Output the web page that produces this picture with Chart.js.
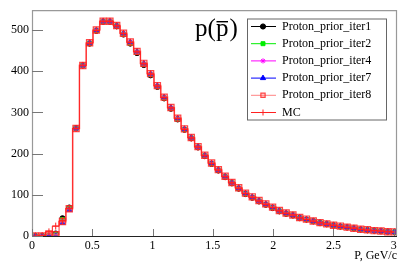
<!DOCTYPE html>
<html>
<head>
<meta charset="utf-8">
<style>
  html, body { margin: 0; padding: 0; background: #fff; }
  canvas { display: block; }
</style>
</head>
<body>
<canvas id="chart" width="407" height="263"></canvas>
<script src="https://cdn.jsdelivr.net/npm/chart.js@4.4.1/dist/chart.umd.min.js"></script>
<script>
// bin centres, P in GeV/c
const pCenters = [0.0281, 0.0843, 0.1405, 0.1967, 0.2529, 0.3091, 0.3653, 0.4215, 0.4777, 0.5339,
  0.5901, 0.6463, 0.7025, 0.7587, 0.8149, 0.8711, 0.9273, 0.9835, 1.0397, 1.0959,
  1.1521, 1.2083, 1.2645, 1.3207, 1.3769, 1.4331, 1.4893, 1.5455, 1.6017, 1.6579,
  1.7141, 1.7703, 1.8265, 1.8827, 1.9389, 1.9951, 2.0513, 2.1075, 2.1637, 2.2199,
  2.2761, 2.3323, 2.3885, 2.4447, 2.5009, 2.5571, 2.6133, 2.6695, 2.7257, 2.7819,
  2.8381, 2.8943, 2.9505, 3.0067];

const mc = [0, 1, 10, 24, 37, 67, 261, 414, 468, 499, 521, 521, 510, 491, 470, 447, 418, 393, 364, 336,
  311, 285, 259, 238, 216, 195, 176, 160, 144, 129, 116, 103, 94, 85, 77, 69, 61, 55, 51, 44,
  40, 36, 32, 29, 26, 23.5, 21, 19, 16, 14.5, 13, 12, 10.5, 9.7];
const iter1 = [0, 0, 0, 6, 43, 69, 262, 414, 467, 498, 520, 520, 509, 489, 467, 444, 415, 390, 362, 334,
  309, 283, 258, 237, 215, 194, 175, 159, 143, 128, 115, 102, 93, 84, 76, 68, 60, 54, 50, 44,
  40, 36, 32, 29, 26, 23, 21, 18.5, 16, 14.5, 13, 12, 10.5, 9.5];
const iter2 = [0, 0, 1, 3, 40, 67, 261, 414, 468, 499, 521, 521, 510, 490, 468, 446, 417, 392, 363, 335,
  310, 284, 259, 238, 216, 195, 176, 160, 144, 129, 116, 103, 94, 85, 77, 69, 61, 55, 51, 44,
  40, 36, 32, 29, 26, 23.5, 21, 19, 16, 14.5, 13, 12, 10.5, 9.7];
const iter4 = [0, 0, 1, 2, 36, 65, 261, 414, 469, 499, 521, 521, 510, 491, 470, 447, 418, 393, 364, 336,
  311, 285, 259, 238, 216, 195, 176, 160, 144, 129, 116, 103, 94, 85, 77, 69, 61, 55, 51, 44,
  40, 36, 32, 29, 26, 23.5, 21, 19, 16, 14.5, 13, 12, 10.5, 9.8];
const iter7 = [0, 0, 0, 0, 32, 63, 261, 414, 469, 500, 521, 521, 511, 492, 471, 448, 419, 394, 365, 337,
  312, 286, 260, 239, 217, 196, 177, 161, 145, 130, 117, 104, 95, 86, 78, 70, 62, 56, 51, 45,
  41, 36.5, 32.5, 29.5, 26, 24, 21.5, 19, 16.5, 15, 13, 12, 10.5, 10];
const iter8 = [0, 0, 5, 3, 35, 66, 261, 414, 469, 500, 521, 521, 511, 492, 471, 448, 419, 394, 365, 337,
  312, 286, 260, 239, 217, 196, 177, 161, 145, 130, 117, 104, 95, 86, 78, 70, 62, 56, 51, 45,
  41, 36.5, 32.5, 29.5, 26, 24, 21.5, 19, 16.5, 15, 13, 12, 10.5, 10];

const xTicks = [0, 0.5, 1, 1.5, 2, 2.5, 3];
const yTicks = [0, 100, 200, 300, 400, 500];

const serif = '"Liberation Serif", "DejaVu Serif", serif';

function pts(vals) {
  return vals.map((v, i) => ({ x: pCenters[i], y: v }));
}

function markerSet(label, vals, color, style, radius, order, extra) {
  return Object.assign({
    label: label,
    data: pts(vals),
    showLine: false,
    borderColor: color,
    borderWidth: 1,
    pointStyle: style,
    pointRadius: radius,
    pointBackgroundColor: color,
    pointBorderColor: color,
    pointBorderWidth: 1,
    order: order
  }, extra || {});
}

// ROOT-like frame, inward ticks, title and legend box
const rootDecor = {
  id: 'rootDecor',
  afterDraw(chart) {
    const { ctx, chartArea: a, scales } = chart;
    ctx.save();

    ctx.strokeStyle = '#999';
    ctx.lineWidth = 1.2;
    ctx.beginPath();
    ctx.moveTo(a.left + 0.5, a.bottom);
    ctx.lineTo(a.left + 0.5, a.top + 0.5);
    ctx.lineTo(a.right - 0.5, a.top + 0.5);
    ctx.lineTo(a.right - 0.5, a.bottom);
    ctx.stroke();

    ctx.strokeStyle = '#222';
    ctx.lineWidth = 1;
    ctx.beginPath();
    ctx.moveTo(a.left, a.bottom + 0.5);
    ctx.lineTo(a.right, a.bottom + 0.5);
    ctx.stroke();

    ctx.strokeStyle = '#777';
    ctx.beginPath();
    scales.x.ticks.forEach(t => {
      const px = Math.round(scales.x.getPixelForValue(t.value)) + 0.5;
      ctx.moveTo(px, a.bottom);
      ctx.lineTo(px, a.bottom - 7);
    });
    scales.y.ticks.forEach(t => {
      const py = Math.round(scales.y.getPixelForValue(t.value)) + 0.5;
      ctx.moveTo(a.left, py);
      ctx.lineTo(a.left + 11, py);
    });
    ctx.stroke();

    // title p(p-bar)
    ctx.fillStyle = '#000';
    ctx.font = '25px ' + serif;
    ctx.textBaseline = 'alphabetic';
    ctx.textAlign = 'left';
    const ty = 35.5;
    const pw = ctx.measureText('p').width;
    ctx.fillText('p', 195, ty);
    ctx.fillText('(', 207.5, ty);
    ctx.fillText('p', 216, ty);
    ctx.fillRect(216.5, 21, pw - 1, 1.4);
    ctx.fillText(')', 229.5, ty);

    // legend box
    const bx = 247, by = 18.5, bw = 139, bh = 101;
    ctx.fillStyle = '#fff';
    ctx.fillRect(bx, by, bw, bh);
    ctx.strokeStyle = '#666';
    ctx.lineWidth = 1;
    ctx.strokeRect(bx + 0.5, by + 0.5, bw, bh);

    ctx.font = '12px ' + serif;
    ctx.textBaseline = 'middle';
    chart.data.datasets.forEach((ds, i) => {
      const ly = 26 + i * 17.2;
      ctx.strokeStyle = ds.borderColor;
      ctx.lineWidth = 1;
      ctx.beginPath();
      ctx.moveTo(251, ly + 0.5);
      ctx.lineTo(276, ly + 0.5);
      ctx.stroke();
      ctx.fillStyle = ds.pointBackgroundColor;
      ctx.strokeStyle = ds.pointBorderColor;
      ctx.lineWidth = ds.pointBorderWidth;
      Chart.helpers.drawPoint(ctx, {
        pointStyle: ds.pointStyle,
        radius: Math.min(ds.pointRadius, 3),
        rotation: 0,
        borderWidth: ds.pointBorderWidth
      }, 263, ly + 0.5);
      ctx.fillStyle = '#000';
      ctx.fillText(ds.label, 282, ly + 0.5);
    });

    ctx.restore();
  }
};

new Chart(document.getElementById('chart'), {
  type: 'line',
  data: {
    datasets: [
      markerSet('Proton_prior_iter1', iter1, '#000000', 'circle', 2.6, 6),
      markerSet('Proton_prior_iter2', iter2, '#00ee00', 'rect', 2.8, 5),
      markerSet('Proton_prior_iter4', iter4, '#ff00ff', 'star', 2.6, 4),
      markerSet('Proton_prior_iter7', iter7, '#0000ff', 'triangle', 3, 3),
      markerSet('Proton_prior_iter8', iter8, 'rgba(255,90,90,0.75)', 'rect', 4.4, 2, {
        showLine: true,
        stepped: 'middle',
        borderWidth: 1.6,
        pointBackgroundColor: 'rgba(255,120,120,0.3)',
        pointBorderColor: 'rgba(255,40,40,0.85)',
        pointBorderWidth: 1.2
      }),
      markerSet('MC', mc, '#ff2020', 'cross', 3.5, 1, {
        showLine: true,
        stepped: 'middle',
        borderWidth: 1
      })
    ]
  },
  options: {
    responsive: false,
    animation: false,
    devicePixelRatio: 1,
    layout: { padding: { left: 0, right: 10, top: 10, bottom: 0 } },
    plugins: {
      legend: { display: false },
      tooltip: { enabled: false }
    },
    scales: {
      x: {
        type: 'linear',
        min: 0,
        max: 3.027,
        afterBuildTicks: s => { s.ticks = xTicks.map(v => ({ value: v })); },
        afterFit: s => { s.height = 27; },
        grid: { display: false, drawTicks: false },
        border: { display: false },
        ticks: {
          autoSkip: false,
          maxRotation: 0,
          padding: 3,
          color: '#000',
          font: { family: serif, size: 12 },
          callback: v => String(+v.toFixed(2))
        },
        title: {
          display: true,
          text: 'P, GeV/c',
          align: 'end',
          color: '#000',
          font: { family: serif, size: 12 },
          padding: { top: 0, bottom: 0 }
        }
      },
      y: {
        min: 0,
        max: 548,
        afterBuildTicks: s => { s.ticks = yTicks.map(v => ({ value: v })); },
        afterFit: s => { s.width = 32; },
        grid: { display: false, drawTicks: false },
        border: { display: false },
        ticks: {
          padding: 3,
          color: '#000',
          font: { family: serif, size: 12 },
          callback: v => String(v)
        }
      }
    }
  },
  plugins: [rootDecor]
});
</script>
</body>
</html>
